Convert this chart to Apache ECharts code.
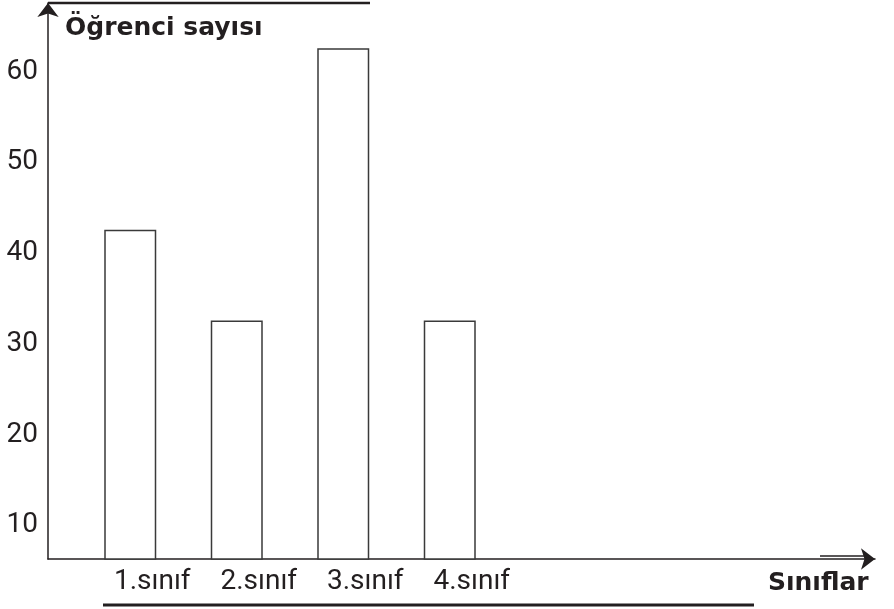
<!DOCTYPE html>
<html>
<head>
<meta charset="utf-8">
<script src="https://cdn.jsdelivr.net/npm/echarts@6/dist/echarts.min.js"></script>
<style>
html,body{margin:0;padding:0;background:#fff;}
#c{width:894px;height:609px;}
</style>
</head>
<body>
<div id="c"></div>
<script>
const categories = ['1.sınıf', '2.sınıf', '3.sınıf', '4.sınıf'];
const studentCounts = [45, 35, 65, 35];
const yTickLabels = [10, 20, 30, 40, 50, 60];
const yTitle = 'Öğrenci sayısı';
const xTitle = 'Sınıflar';

const ink = '#231f20';
const font = 'Roboto';
const boldFont = 'DejaVu Sans';
const yMin = 8.7, yMax = 70;

const chart = echarts.init(document.getElementById('c'), null, {renderer: 'canvas'});
chart.setOption({
  backgroundColor: '#ffffff',
  animation: false,
  title: [
    {text: yTitle, left: 60, top: 11,
     textStyle: {fontFamily: boldFont, fontWeight: 'bold', fontSize: 25, color: ink}},
    {text: xTitle, left: 763, top: 566,
     textStyle: {fontFamily: boldFont, fontWeight: 'bold', fontSize: 25, color: ink}}
  ],
  grid: [
    {left: 48, right: 19, top: 3, bottom: 50},
    {left: 77, width: 426, top: 3, bottom: 50}
  ],
  xAxis: [
    {gridIndex: 0, type: 'value', min: 0, max: 1,
     axisLine: {show: true, lineStyle: {color: ink, width: 1.5}, symbol: ['none', 'arrow'], symbolSize: [16, 14]},
     axisTick: {show: false}, axisLabel: {show: false}, splitLine: {show: false}},
    {gridIndex: 1, type: 'category', data: categories,
     axisLine: {show: false}, axisTick: {show: false}, splitLine: {show: false},
     axisLabel: {fontFamily: font, fontSize: 28, color: ink, margin: 9, padding: [0, 0, 0, 44]}}
  ],
  yAxis: [
    {gridIndex: 0, type: 'value', min: yMin, max: yMax,
     axisLine: {show: true, lineStyle: {color: ink, width: 1.5}, symbol: ['none', 'arrow'], symbolSize: [16, 14]},
     axisTick: {show: false}, splitLine: {show: false},
     axisLabel: {customValues: yTickLabels, fontFamily: font, fontSize: 28, color: ink, margin: 10,
                 verticalAlign: 'bottom', padding: [0, 0, 8, 0]}},
    {gridIndex: 1, type: 'value', min: yMin, max: yMax, show: false}
  ],
  series: [{
    type: 'bar', xAxisIndex: 1, yAxisIndex: 1, data: studentCounts, barWidth: 52,
    itemStyle: {color: '#ffffff', borderColor: '#3a3a3a', borderWidth: 1.5},
    silent: true
  }],
  graphic: [
    {type: 'line', shape: {x1: 48, y1: 3, x2: 370, y2: 3}, style: {stroke: ink, lineWidth: 2.5}, silent: true},
    {type: 'line', shape: {x1: 103, y1: 605, x2: 754, y2: 605}, style: {stroke: ink, lineWidth: 3}, silent: true},
    {type: 'line', shape: {x1: 820, y1: 556, x2: 868, y2: 556}, style: {stroke: ink, lineWidth: 1.5}, silent: true}
  ]
});
</script>
</body>
</html>
